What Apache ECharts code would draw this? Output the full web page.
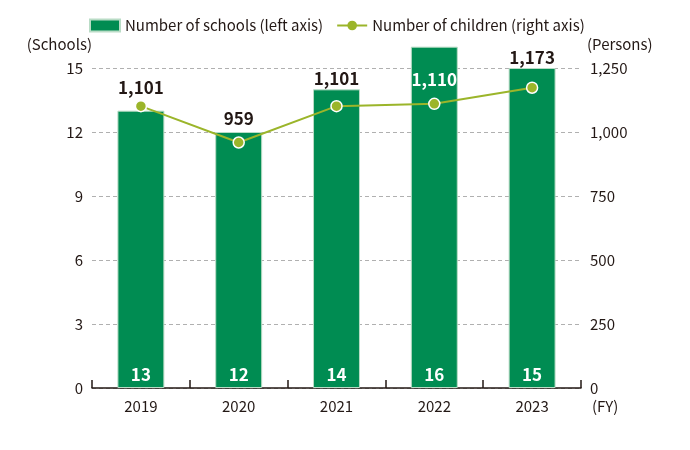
<!DOCTYPE html>
<html>
<head>
<meta charset="utf-8">
<script src="https://cdn.jsdelivr.net/npm/echarts@6/dist/echarts.min.js"></script>
<style>
html,body{margin:0;padding:0;background:#fff;}
#chart{width:690px;height:450px;}
</style>
</head>
<body>
<div id="chart"></div>
<script>
const years = ['2019', '2020', '2021', '2022', '2023'];
const schools = [13, 12, 14, 16, 15];
const children = [1101, 959, 1101, 1110, 1173];
const leftTicks = [0, 3, 6, 9, 12, 15];
const rightTicks = [0, 250, 500, 750, 1000, 1250];
const childLabelDistance = [4, 9, 13, 10, 15];
const childLabelColor = ['#231815', '#231815', '#231815', '#ffffff', '#231815'];

const FONT = '"Noto Sans CJK JP", "Noto Sans", sans-serif';
const TXT = '#231815';

const chart = echarts.init(document.getElementById('chart'), null, {renderer: 'canvas'});
chart.setOption({
  animation: false,
  textStyle: {fontFamily: FONT, color: TXT},
  legend: {
    left: 84, top: 13,
    itemWidth: 30, itemHeight: 12, itemGap: 13,
    textStyle: {fontFamily: FONT, fontSize: 15, color: TXT},
    data: [
      {name: 'Number of schools (left axis)', icon: 'rect'},
      {name: 'Number of children (right axis)', itemStyle: {borderWidth: 0}}
    ]
  },
  grid: {left: 92, right: 109, top: 68, bottom: 62},
  xAxis: {
    type: 'category',
    data: years,
    name: '(FY)',
    nameLocation: 'end',
    nameGap: 11,
    nameTextStyle: {fontFamily: FONT, fontSize: 15, color: TXT, verticalAlign: 'top', padding: [11, 0, 0, 0]},
    axisLine: {lineStyle: {color: '#231815', width: 1.5}},
    axisTick: {show: true, inside: true, length: 8, lineStyle: {color: '#231815', width: 1.5}},
    axisLabel: {fontFamily: FONT, fontSize: 15, color: TXT, margin: 11}
  },
  yAxis: [
    {
      type: 'value', min: 0, max: 15, interval: 3,
      name: '(Schools)',
      nameLocation: 'end',
      nameGap: 16,
      nameTextStyle: {fontFamily: FONT, fontSize: 15, color: TXT, align: 'right', padding: [0, 0, 0, 0]},
      axisLine: {show: false}, axisTick: {show: false},
      axisLabel: {fontFamily: FONT, fontSize: 15, color: TXT, margin: 9,
        formatter: v => leftTicks.includes(v) ? String(v) : ''},
      splitLine: {show: true, lineStyle: {color: '#b0b0b0', type: [4, 3], width: 1}}
    },
    {
      type: 'value', min: 0, max: 1250, interval: 250,
      name: '(Persons)',
      nameLocation: 'end',
      nameGap: 16,
      nameTextStyle: {fontFamily: FONT, fontSize: 15, color: TXT, align: 'left', padding: [0, 0, 0, 6]},
      axisLine: {show: false}, axisTick: {show: false},
      axisLabel: {fontFamily: FONT, fontSize: 15, color: TXT, margin: 9,
        formatter: v => rightTicks.includes(v) ? v.toLocaleString('en-US') : ''},
      splitLine: {show: false}
    }
  ],
  series: [
    {
      name: 'Number of schools (left axis)',
      type: 'bar',
      yAxisIndex: 0,
      data: schools,
      barWidth: '48%',
      clip: false,
      itemStyle: {color: '#008C52', borderColor: '#b9dcc6', borderWidth: 1},
      label: {show: true, position: 'insideBottom', distance: 5, color: '#fff',
        fontFamily: FONT, fontSize: 17, fontWeight: 'bold'}
    },
    {
      name: 'Number of children (right axis)',
      type: 'line',
      yAxisIndex: 1,
      data: children.map((v, i) => ({
        value: v,
        label: {distance: childLabelDistance[i], color: childLabelColor[i]}
      })),
      symbol: 'circle',
      symbolSize: 11,
      lineStyle: {color: '#9BB52A', width: 2},
      itemStyle: {color: '#9BB52A', borderColor: '#fff', borderWidth: 1.5},
      label: {show: true, position: 'top', fontFamily: FONT, fontSize: 17, fontWeight: 'bold',
        formatter: p => p.value.toLocaleString('en-US')},
      z: 5
    }
  ]
});
</script>
</body>
</html>
